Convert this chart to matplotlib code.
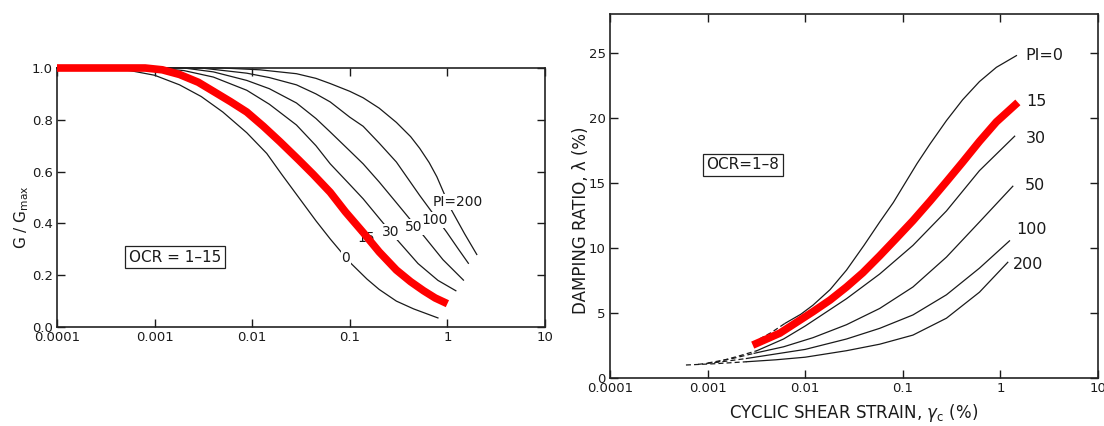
import matplotlib
matplotlib.use("Agg")
import matplotlib.pyplot as plt

plt.rcParams['font.family'] = ['DejaVu Sans']
plt.rcParams['mathtext.fontset'] = 'dejavusans'

# ---------------- Left panel: G/Gmax vs cyclic shear strain (%) ----------------
g_pi0_x = [1e-4, 3e-4, 5.6e-4, 1e-3, 1.8e-3, 3e-3, 5e-3, 8.8e-3, 0.0141, 0.02, 0.03, 0.045,
           0.063, 0.1, 0.15, 0.2, 0.3, 0.45, 0.8]
g_pi0_y = [1.0, 1.0, 0.99, 0.972, 0.935, 0.89, 0.83, 0.75, 0.67, 0.59, 0.50, 0.41,
           0.34, 0.25, 0.185, 0.145, 0.10, 0.07, 0.035]

g_pi15_x = [1e-4, 8e-4, 1.2e-3, 1.8e-3, 2.8e-3, 4e-3, 6e-3, 8.8e-3, 0.013, 0.0193, 0.03, 0.042,
            0.063, 0.09, 0.137, 0.2, 0.3, 0.42, 0.57, 0.75, 1.0]
g_pi15_y = [1.0, 1.0, 0.993, 0.975, 0.945, 0.91, 0.87, 0.83, 0.775, 0.715, 0.645, 0.59,
            0.52, 0.445, 0.365, 0.29, 0.22, 0.175, 0.14, 0.112, 0.09]

g_pi30_x = [1e-4, 1e-3, 2e-3, 4e-3, 8.8e-3, 0.015, 0.0284, 0.045, 0.063, 0.1, 0.137, 0.2,
            0.3, 0.5, 0.8, 1.22]
g_pi30_y = [1.0, 1.0, 0.99, 0.965, 0.914, 0.86, 0.78, 0.70, 0.63, 0.55, 0.495, 0.42,
            0.34, 0.245, 0.18, 0.14]

g_pi50_x = [1e-4, 2e-3, 4e-3, 8.8e-3, 0.015, 0.0284, 0.045, 0.063, 0.1, 0.137, 0.2, 0.3,
            0.566, 0.9, 1.46]
g_pi50_y = [1.0, 1.0, 0.985, 0.952, 0.92, 0.865, 0.805, 0.753, 0.68, 0.63, 0.56, 0.48,
            0.354, 0.26, 0.181]

g_pi100_x = [1e-4, 3e-3, 8.8e-3, 0.015, 0.0284, 0.045, 0.063, 0.1, 0.137, 0.2, 0.3, 0.52,
             0.98, 1.3, 1.64]
g_pi100_y = [1.0, 1.0, 0.98, 0.963, 0.935, 0.90, 0.869, 0.81, 0.775, 0.71, 0.637, 0.508,
             0.367, 0.30, 0.246]

g_pi200_x = [1e-4, 5e-3, 0.012, 0.0284, 0.045, 0.063, 0.1, 0.137, 0.2, 0.3, 0.42, 0.52,
             0.65, 0.78, 1.07, 1.5, 2.0]
g_pi200_y = [1.0, 1.0, 0.993, 0.978, 0.96, 0.94, 0.91, 0.885, 0.845, 0.79, 0.735, 0.69,
             0.635, 0.58, 0.46, 0.36, 0.28]

g_labels = ["PI=200", "100", "50", "30", "15", "0"]
g_label_x = [1.28, 0.746, 0.455, 0.262, 0.147, 0.0914]
g_label_y = [0.483, 0.413, 0.386, 0.368, 0.344, 0.266]

# ---------------- Right panel: damping ratio vs cyclic shear strain ----------------
d_pi0_dash_x = [0.0034, 0.0045, 0.0062]
d_pi0_dash_y = [3.0, 3.5, 4.2]
d_pi0_x = [0.0062, 0.009, 0.012, 0.018, 0.0265, 0.04, 0.058, 0.08, 0.1, 0.14, 0.19, 0.28,
           0.41, 0.61, 0.91, 1.46]
d_pi0_y = [4.2, 4.9, 5.6, 6.8, 8.3, 10.2, 12.0, 13.5, 14.7, 16.5, 18.0, 19.8,
           21.4, 22.8, 23.9, 24.8]

d_pi15_x = [0.0029, 0.0055, 0.012, 0.018, 0.0265, 0.039, 0.058, 0.086, 0.127, 0.19, 0.28,
            0.41, 0.61, 0.91, 1.51]
d_pi15_y = [2.53, 3.45, 5.1, 6.0, 7.0, 8.1, 9.4, 10.75, 12.1, 13.6, 15.1, 16.6, 18.2, 19.7, 21.2]

d_pi30_dash_x = [0.0012, 0.002, 0.0032]
d_pi30_dash_y = [1.2, 1.65, 2.1]
d_pi30_x = [0.0032, 0.006, 0.01, 0.0265, 0.058, 0.127, 0.28, 0.61, 1.4]
d_pi30_y = [2.1, 3.0, 4.0, 6.1, 8.0, 10.2, 12.85, 15.95, 18.6]

d_pi50_dash_x = [0.001, 0.0018, 0.003]
d_pi50_dash_y = [1.15, 1.5, 1.9]
d_pi50_x = [0.003, 0.006, 0.012, 0.0265, 0.058, 0.127, 0.28, 0.61, 1.34]
d_pi50_y = [1.9, 2.4, 3.1, 4.1, 5.35, 7.0, 9.3, 12.0, 14.75]

d_pi100_dash_x = [0.0008, 0.0014, 0.0025]
d_pi100_dash_y = [1.05, 1.25, 1.5]
d_pi100_x = [0.0025, 0.005, 0.01, 0.0265, 0.058, 0.127, 0.28, 0.61, 1.24]
d_pi100_y = [1.5, 1.85, 2.2, 3.0, 3.82, 4.85, 6.4, 8.45, 10.55]

d_pi200_dash_x = [0.0006, 0.0012, 0.0025]
d_pi200_dash_y = [1.0, 1.1, 1.25]
d_pi200_x = [0.0025, 0.005, 0.01, 0.0265, 0.058, 0.127, 0.28, 0.61, 1.19]
d_pi200_y = [1.25, 1.4, 1.6, 2.1, 2.6, 3.3, 4.6, 6.6, 8.9]

d_labels = ["PI=0", "15", "30", "50", "100", "200"]
d_label_x = [2.83, 2.33, 2.33, 2.28, 2.07, 1.91]
d_label_y = [24.8, 21.3, 18.4, 14.8, 11.4, 8.7]

x_ticks = [1e-4, 1e-3, 1e-2, 1e-1, 1, 10]
x_ticklabels = ["0.0001", "0.001", "0.01", "0.1", "1", "10"]
g_yticks = [0.0, 0.2, 0.4, 0.6, 0.8, 1.0]
g_yticklabels = ["0.0", "0.2", "0.4", "0.6", "0.8", "1.0"]
d_yticks = [0, 5, 10, 15, 20, 25]
d_yticklabels = ["0", "5", "10", "15", "20", "25"]

W, H = 1104, 426
fig = plt.figure(figsize=(W / 100, H / 100), dpi=100)
axL = fig.add_axes([57 / W, 1 - 327 / H, 488 / W, 259 / H])
axR = fig.add_axes([610 / W, 1 - 378 / H, 488 / W, 364 / H])

black_lw = 0.9
red_lw = 5.5
ink = '#1a1a1a'


def style(ax):
    ax.set_xscale('log')
    ax.set_xlim(1e-4, 10)
    ax.set_xticks(x_ticks)
    ax.set_xticklabels(x_ticklabels)
    ax.minorticks_off()
    ax.tick_params(axis='both', which='major', direction='in', length=6, width=1.0,
                   top=True, right=True, labelsize=9.5, pad=3, colors=ink)
    for s in ax.spines.values():
        s.set_linewidth(1.2)
        s.set_color('#222222')


# Left panel
style(axL)
axL.set_ylim(0, 1.0)
axL.set_yticks(g_yticks)
axL.set_yticklabels(g_yticklabels)
for xs, ys in [(g_pi0_x, g_pi0_y), (g_pi30_x, g_pi30_y), (g_pi50_x, g_pi50_y),
               (g_pi100_x, g_pi100_y), (g_pi200_x, g_pi200_y)]:
    axL.plot(xs, ys, color=ink, lw=black_lw, clip_on=False, zorder=2)
for t, x, y in zip(g_labels, g_label_x, g_label_y):
    axL.text(x, y, t, fontsize=10, ha='center', va='center', zorder=3, color=ink,
             bbox=dict(facecolor='white', edgecolor='none', pad=0.6))
axL.plot(g_pi15_x, g_pi15_y, color='#ff0000', lw=red_lw, clip_on=False, zorder=4,
         solid_capstyle='butt', solid_joinstyle='round')
axL.text(0.00162, 0.27, "OCR = 1–15", fontsize=11, ha='center', va='center', color=ink,
         bbox=dict(facecolor='white', edgecolor='#222222', lw=0.9, pad=2.5))
axL.set_ylabel(r"G / G$_\mathregular{max}$", fontsize=11, color=ink)
axL.yaxis.set_label_coords(-0.053, 0.425)

# Right panel
style(axR)
axR.set_ylim(0, 28)
axR.set_yticks(d_yticks)
axR.set_yticklabels(d_yticklabels)
for xs, ys in [(d_pi0_dash_x, d_pi0_dash_y), (d_pi30_dash_x, d_pi30_dash_y),
               (d_pi50_dash_x, d_pi50_dash_y), (d_pi100_dash_x, d_pi100_dash_y),
               (d_pi200_dash_x, d_pi200_dash_y)]:
    axR.plot(xs, ys, color=ink, lw=black_lw, ls=(0, (4, 2.5)), zorder=2)
for xs, ys in [(d_pi0_x, d_pi0_y), (d_pi30_x, d_pi30_y), (d_pi50_x, d_pi50_y),
               (d_pi100_x, d_pi100_y), (d_pi200_x, d_pi200_y)]:
    axR.plot(xs, ys, color=ink, lw=black_lw, zorder=2)
axR.plot(d_pi15_x, d_pi15_y, color='#ff0000', lw=red_lw, zorder=4,
         solid_capstyle='butt', solid_joinstyle='round')
for t, x, y in zip(d_labels, d_label_x, d_label_y):
    axR.text(x, y, t, fontsize=11.5, ha='center', va='center', zorder=3, color=ink)
axR.text(0.0023, 16.4, "OCR=1–8", fontsize=11, ha='center', va='center', color=ink,
         bbox=dict(facecolor='white', edgecolor='#222222', lw=0.9, pad=2.5))
axR.set_ylabel("DAMPING RATIO, λ (%)", fontsize=12, color=ink)
axR.yaxis.set_label_coords(-0.042, 0.434)
axR.set_xlabel(r"CYCLIC SHEAR STRAIN, $\gamma_\mathregular{c}$ (%)", fontsize=12,
               labelpad=5, color=ink)

fig.savefig("out.png", dpi=100)
